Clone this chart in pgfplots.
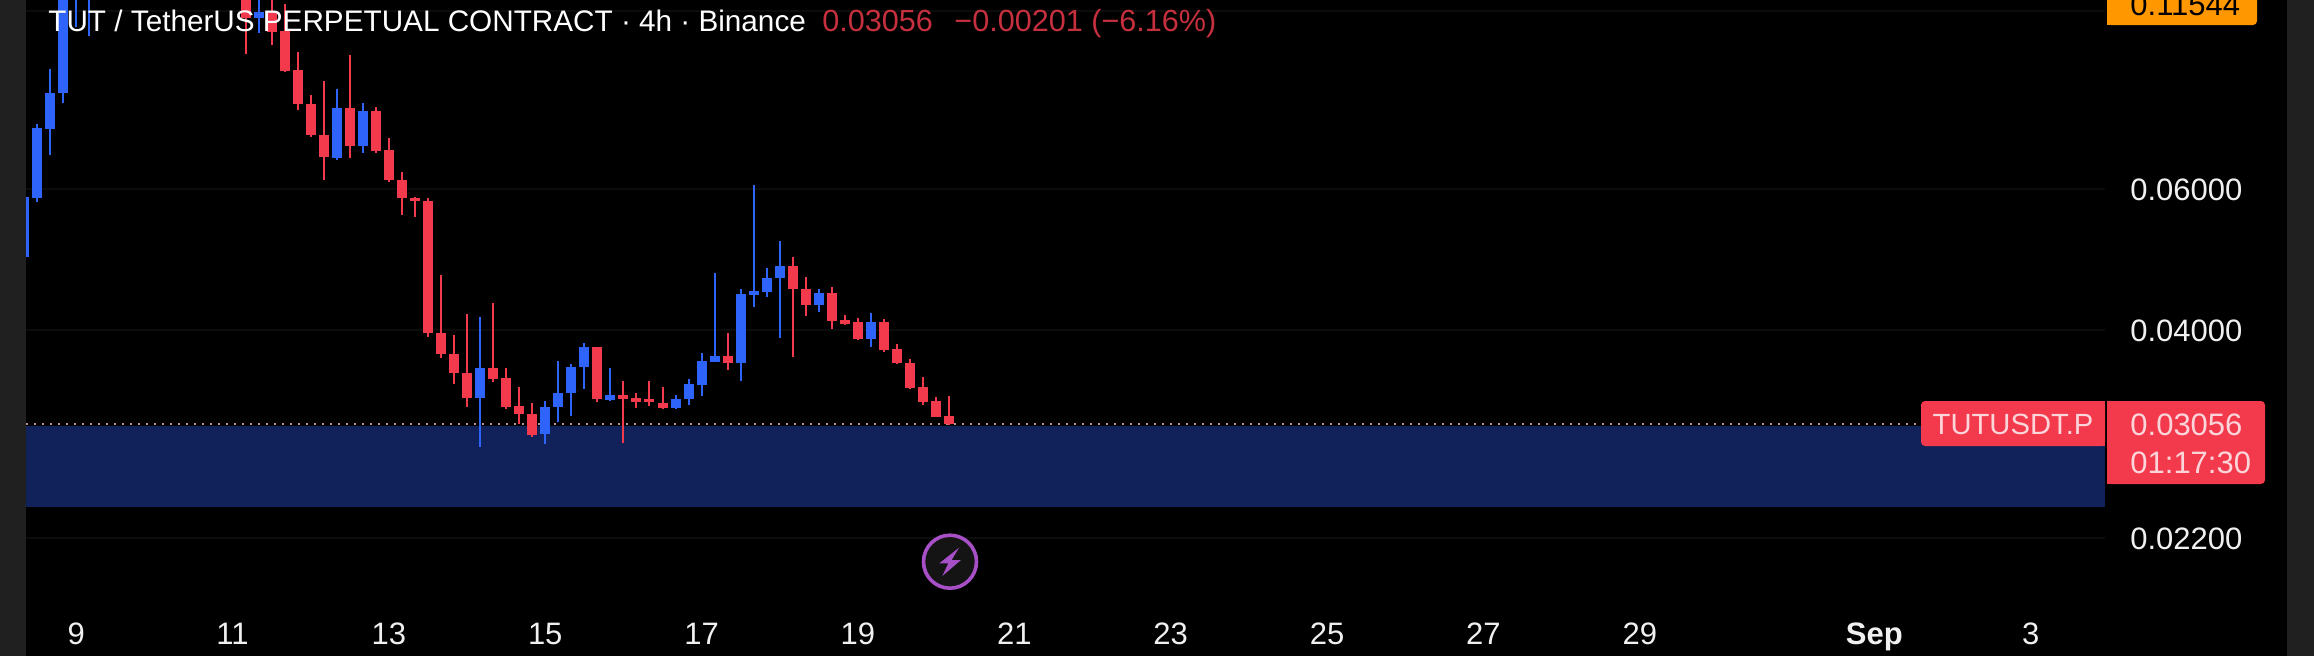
\documentclass[border=0pt]{standalone}
\usepackage{pgfplots}
\pgfplotsset{compat=1.18}
\usepackage{fontspec}
\setmainfont{Liberation Sans}
\definecolor{cblue}{HTML}{2F64FA}
\definecolor{cred}{HTML}{F23A4C}
\definecolor{band}{HTML}{11215A}
\definecolor{side}{HTML}{202020}
\definecolor{faint}{HTML}{0C0C0C}
\definecolor{orng}{HTML}{FF9800}
\definecolor{pinktxt}{HTML}{FBD5DA}
\definecolor{dotc}{HTML}{B89098}
\definecolor{vio}{HTML}{A64FC6}
\begin{document}
\begin{tikzpicture}
\path[use as bounding box] (0,-327.5pt) rectangle (1157pt,0);
\fill[black] (-5pt,-335pt) rectangle (1162pt,5pt);
\fill[side] (-5pt,-335pt) rectangle (13pt,5pt);
\fill[side] (1143.5pt,-335pt) rectangle (1162pt,5pt);
\begin{axis}[
  at={(13pt,-327.5pt)}, anchor=south west,
  scale only axis, width=1039.5pt, height=327.5pt,
  ymode=log, log basis y=10,
  unbounded coords=jump,
  xmin=0.15, xmax=159.7, ymin=0.01572, ymax=0.10328,
  axis line style={draw=none}, major tick length=0pt, minor tick length=0pt,
  xtick={4,16,28,40,52,64,76,88,100,112,124,142,154},
  xticklabels={9,11,13,15,17,19,21,23,25,27,29,\textbf{Sep},3},
  xticklabel style={font=\fontsize{15.5pt}{18pt}\selectfont, text=white!94!black, anchor=base, inner sep=0pt, yshift=5.5pt},
  ytick={0.022,0.04,0.06,0.1},
  yticklabels={0.02200,0.04000,0.06000,{}},
  yticklabel pos=right,
  yticklabel style={font=\fontsize{15.5pt}{18pt}\selectfont, text=white!94!black, anchor=west, inner sep=0pt, xshift=12.5pt, yshift=-0.5pt},
  ymajorgrids, yminorgrids=false, xmajorgrids=false,
  major grid style={faint, line width=0.8pt},
  clip=true, axis on top=false,
]
% zone
\addplot[draw=none, fill=band, forget plot] coordinates {(0.15,0.03037) (159.7,0.03037) (159.7,0.02406) (0.15,0.02406)} -- cycle;
% last price line
\addplot[dotc, line width=1pt, dash pattern=on 1pt off 3pt, forget plot] coordinates {(0.15,0.03056) (145.5,0.03056)};
% blue wicks
\addplot[cblue, line width=1pt, forget plot] table[row sep=\\] {
x y\\
0 0.05865\\ 0 0.04936\\ nan nan\\
1 0.07234\\ 1 0.05781\\ nan nan\\
2 0.08473\\ 2 0.06617\\ nan nan\\
3 0.12000\\ 3 0.07684\\ nan nan\\
4 0.12500\\ 4 0.09561\\ nan nan\\
5 0.13000\\ 5 0.09316\\ nan nan\\
18 0.10800\\ 18 0.09397\\ nan nan\\
24 0.08001\\ 24 0.06521\\ nan nan\\
26 0.07684\\ 26 0.06656\\ nan nan\\
35 0.04155\\ 35 0.02860\\ nan nan\\
40 0.03263\\ 40 0.02884\\ nan nan\\
41 0.03661\\ 41 0.03073\\ nan nan\\
42 0.03630\\ 42 0.03127\\ nan nan\\
43 0.03855\\ 43 0.03379\\ nan nan\\
45 0.03589\\ 45 0.03263\\ nan nan\\
50 0.03320\\ 50 0.03190\\ nan nan\\
51 0.03476\\ 51 0.03226\\ nan nan\\
52 0.03746\\ 52 0.03311\\ nan nan\\
53 0.04715\\ 53 0.03650\\ nan nan\\
55 0.04504\\ 55 0.03456\\ nan nan\\
56 0.06071\\ 56 0.04277\\ nan nan\\
57 0.04783\\ 57 0.04401\\ nan nan\\
58 0.05167\\ 58 0.03911\\ nan nan\\
61 0.04504\\ 61 0.04216\\ nan nan\\
65 0.04203\\ 65 0.03812\\ nan nan\\
};
% blue bodies
\addplot[cblue, line width=5pt, forget plot] table[row sep=\\] {
x y\\
0 0.05865\\ 0 0.04936\\ nan nan\\
1 0.07152\\ 1 0.05847\\ nan nan\\
2 0.07909\\ 2 0.07132\\ nan nan\\
3 0.11590\\ 3 0.07909\\ nan nan\\
4 0.12000\\ 4 0.11200\\ nan nan\\
5 0.12200\\ 5 0.10800\\ nan nan\\
18 0.09982\\ 18 0.09810\\ nan nan\\
24 0.07575\\ 24 0.06560\\ nan nan\\
26 0.07510\\ 26 0.06791\\ nan nan\\
35 0.03589\\ 35 0.03291\\ nan nan\\
40 0.03208\\ 40 0.02968\\ nan nan\\
41 0.03340\\ 41 0.03208\\ nan nan\\
42 0.03599\\ 42 0.03340\\ nan nan\\
43 0.03812\\ 43 0.03599\\ nan nan\\
45 0.03320\\ 45 0.03272\\ nan nan\\
50 0.03282\\ 50 0.03199\\ nan nan\\
51 0.03427\\ 51 0.03282\\ nan nan\\
52 0.03661\\ 52 0.03417\\ nan nan\\
53 0.03714\\ 53 0.03650\\ nan nan\\
55 0.04439\\ 55 0.03640\\ nan nan\\
56 0.04478\\ 56 0.04427\\ nan nan\\
57 0.04646\\ 57 0.04465\\ nan nan\\
58 0.04811\\ 58 0.04646\\ nan nan\\
61 0.04452\\ 61 0.04301\\ nan nan\\
65 0.04095\\ 65 0.03900\\ nan nan\\
};
% red wicks
\addplot[cred, line width=1pt, forget plot] table[row sep=\\] {
x y\\
17 0.11500\\ 17 0.08847\\ nan nan\\
19 0.10500\\ 19 0.09079\\ nan nan\\
20 0.10213\\ 20 0.08400\\ nan nan\\
21 0.08899\\ 21 0.07532\\ nan nan\\
22 0.07864\\ 22 0.06968\\ nan nan\\
23 0.08184\\ 23 0.06157\\ nan nan\\
25 0.08822\\ 25 0.06560\\ nan nan\\
27 0.07597\\ 27 0.06656\\ nan nan\\
28 0.06948\\ 28 0.06123\\ nan nan\\
29 0.06303\\ 29 0.05570\\ nan nan\\
30 0.05865\\ 30 0.05538\\ nan nan\\
31 0.05847\\ 31 0.03923\\ nan nan\\
32 0.04688\\ 32 0.03693\\ nan nan\\
33 0.03945\\ 33 0.03427\\ nan nan\\
34 0.04191\\ 34 0.03208\\ nan nan\\
36 0.04325\\ 36 0.03447\\ nan nan\\
37 0.03589\\ 37 0.03190\\ nan nan\\
38 0.03398\\ 38 0.03055\\ nan nan\\
39 0.03245\\ 39 0.02943\\ nan nan\\
44 0.03812\\ 44 0.03254\\ nan nan\\
46 0.03456\\ 46 0.02892\\ nan nan\\
47 0.03340\\ 47 0.03199\\ nan nan\\
48 0.03456\\ 48 0.03217\\ nan nan\\
49 0.03398\\ 49 0.03190\\ nan nan\\
54 0.03969\\ 54 0.03568\\ nan nan\\
59 0.04936\\ 59 0.03703\\ nan nan\\
60 0.04661\\ 60 0.04167\\ nan nan\\
62 0.04530\\ 62 0.04015\\ nan nan\\
63 0.04179\\ 63 0.04061\\ nan nan\\
64 0.04142\\ 64 0.03888\\ nan nan\\
66 0.04130\\ 66 0.03757\\ nan nan\\
67 0.03844\\ 67 0.03630\\ nan nan\\
68 0.03682\\ 68 0.03379\\ nan nan\\
69 0.03497\\ 69 0.03226\\ nan nan\\
70 0.03301\\ 70 0.03118\\ nan nan\\
71 0.03311\\ 71 0.03047\\ nan nan\\
};
% red bodies
\addplot[cred, line width=5pt, forget plot] table[row sep=\\] {
x y\\
17 0.11000\\ 17 0.09810\\ nan nan\\
19 0.09982\\ 19 0.09425\\ nan nan\\
20 0.09452\\ 20 0.08425\\ nan nan\\
21 0.08449\\ 21 0.07662\\ nan nan\\
22 0.07662\\ 22 0.07009\\ nan nan\\
23 0.07009\\ 23 0.06579\\ nan nan\\
25 0.07575\\ 25 0.06791\\ nan nan\\
27 0.07510\\ 27 0.06695\\ nan nan\\
28 0.06714\\ 28 0.06157\\ nan nan\\
29 0.06157\\ 29 0.05847\\ nan nan\\
30 0.05847\\ 30 0.05797\\ nan nan\\
31 0.05797\\ 31 0.03969\\ nan nan\\
32 0.03969\\ 32 0.03735\\ nan nan\\
33 0.03735\\ 33 0.03537\\ nan nan\\
34 0.03537\\ 34 0.03291\\ nan nan\\
36 0.03589\\ 36 0.03476\\ nan nan\\
37 0.03487\\ 37 0.03208\\ nan nan\\
38 0.03217\\ 38 0.03145\\ nan nan\\
39 0.03145\\ 39 0.02959\\ nan nan\\
44 0.03812\\ 44 0.03282\\ nan nan\\
46 0.03320\\ 46 0.03282\\ nan nan\\
47 0.03291\\ 47 0.03254\\ nan nan\\
48 0.03282\\ 48 0.03254\\ nan nan\\
49 0.03245\\ 49 0.03199\\ nan nan\\
54 0.03714\\ 54 0.03640\\ nan nan\\
59 0.04811\\ 59 0.04504\\ nan nan\\
60 0.04504\\ 60 0.04301\\ nan nan\\
62 0.04452\\ 62 0.04107\\ nan nan\\
63 0.04118\\ 63 0.04072\\ nan nan\\
64 0.04095\\ 64 0.03900\\ nan nan\\
66 0.04095\\ 66 0.03780\\ nan nan\\
67 0.03790\\ 67 0.03640\\ nan nan\\
68 0.03640\\ 68 0.03388\\ nan nan\\
69 0.03398\\ 69 0.03254\\ nan nan\\
70 0.03263\\ 70 0.03118\\ nan nan\\
71 0.03127\\ 71 0.03056\\ nan nan\\
};
\end{axis}
\begin{scope}[x=0.5pt,y=-0.5pt]
% title
\node[anchor=base west, inner sep=0pt, text=white, font=\fontsize{14.85pt}{18pt}\selectfont] at (48,31) {TUT / TetherUS PERPETUAL CONTRACT · 4h · Binance};
\node[anchor=base west, inner sep=0pt, text=cred!82!black, font=\fontsize{15.3pt}{18pt}\selectfont] at (822,31) {0.03056\hspace{0.7em}−0.00201 (−6.16\%)};
% symbol tag
\fill[cred, rounded corners=2pt] (1921,401) rectangle (2105,446);
\fill[cred] (2095,401) rectangle (2105,446);
\node[anchor=center, inner sep=0pt, text=pinktxt, font=\fontsize{14.6pt}{18pt}\selectfont] at (2013,424) {TUTUSDT.P};
% price tag
\fill[cred, rounded corners=2pt] (2107,401) rectangle (2265,484);
\fill[cred] (2107,401) rectangle (2117,484);
\node[anchor=base west, inner sep=0pt, text=pinktxt, font=\fontsize{15.5pt}{18pt}\selectfont] at (2130,435) {0.03056};
\node[anchor=base west, inner sep=0pt, text=pinktxt, font=\fontsize{15.5pt}{18pt}\selectfont] at (2130,473) {01:17:30};
% high tag
\fill[orng, rounded corners=2pt] (2107,-10) rectangle (2257,25);
\fill[orng] (2107,-10) rectangle (2117,25);
\node[anchor=base west, inner sep=0pt, text=black, font=\fontsize{15.5pt}{18pt}\selectfont] at (2130,15) {0.11544};
% bolt icon
\draw[vio, line width=1.8pt, fill=black!92!white] (950,561.7) circle (26.5);
\fill[vio] (959,547.7) -- (939.3,563.3) -- (948.3,563.3) -- (942.3,576) -- (961,560) -- (951.7,560) -- cycle;
\end{scope}
\end{tikzpicture}
\end{document}
